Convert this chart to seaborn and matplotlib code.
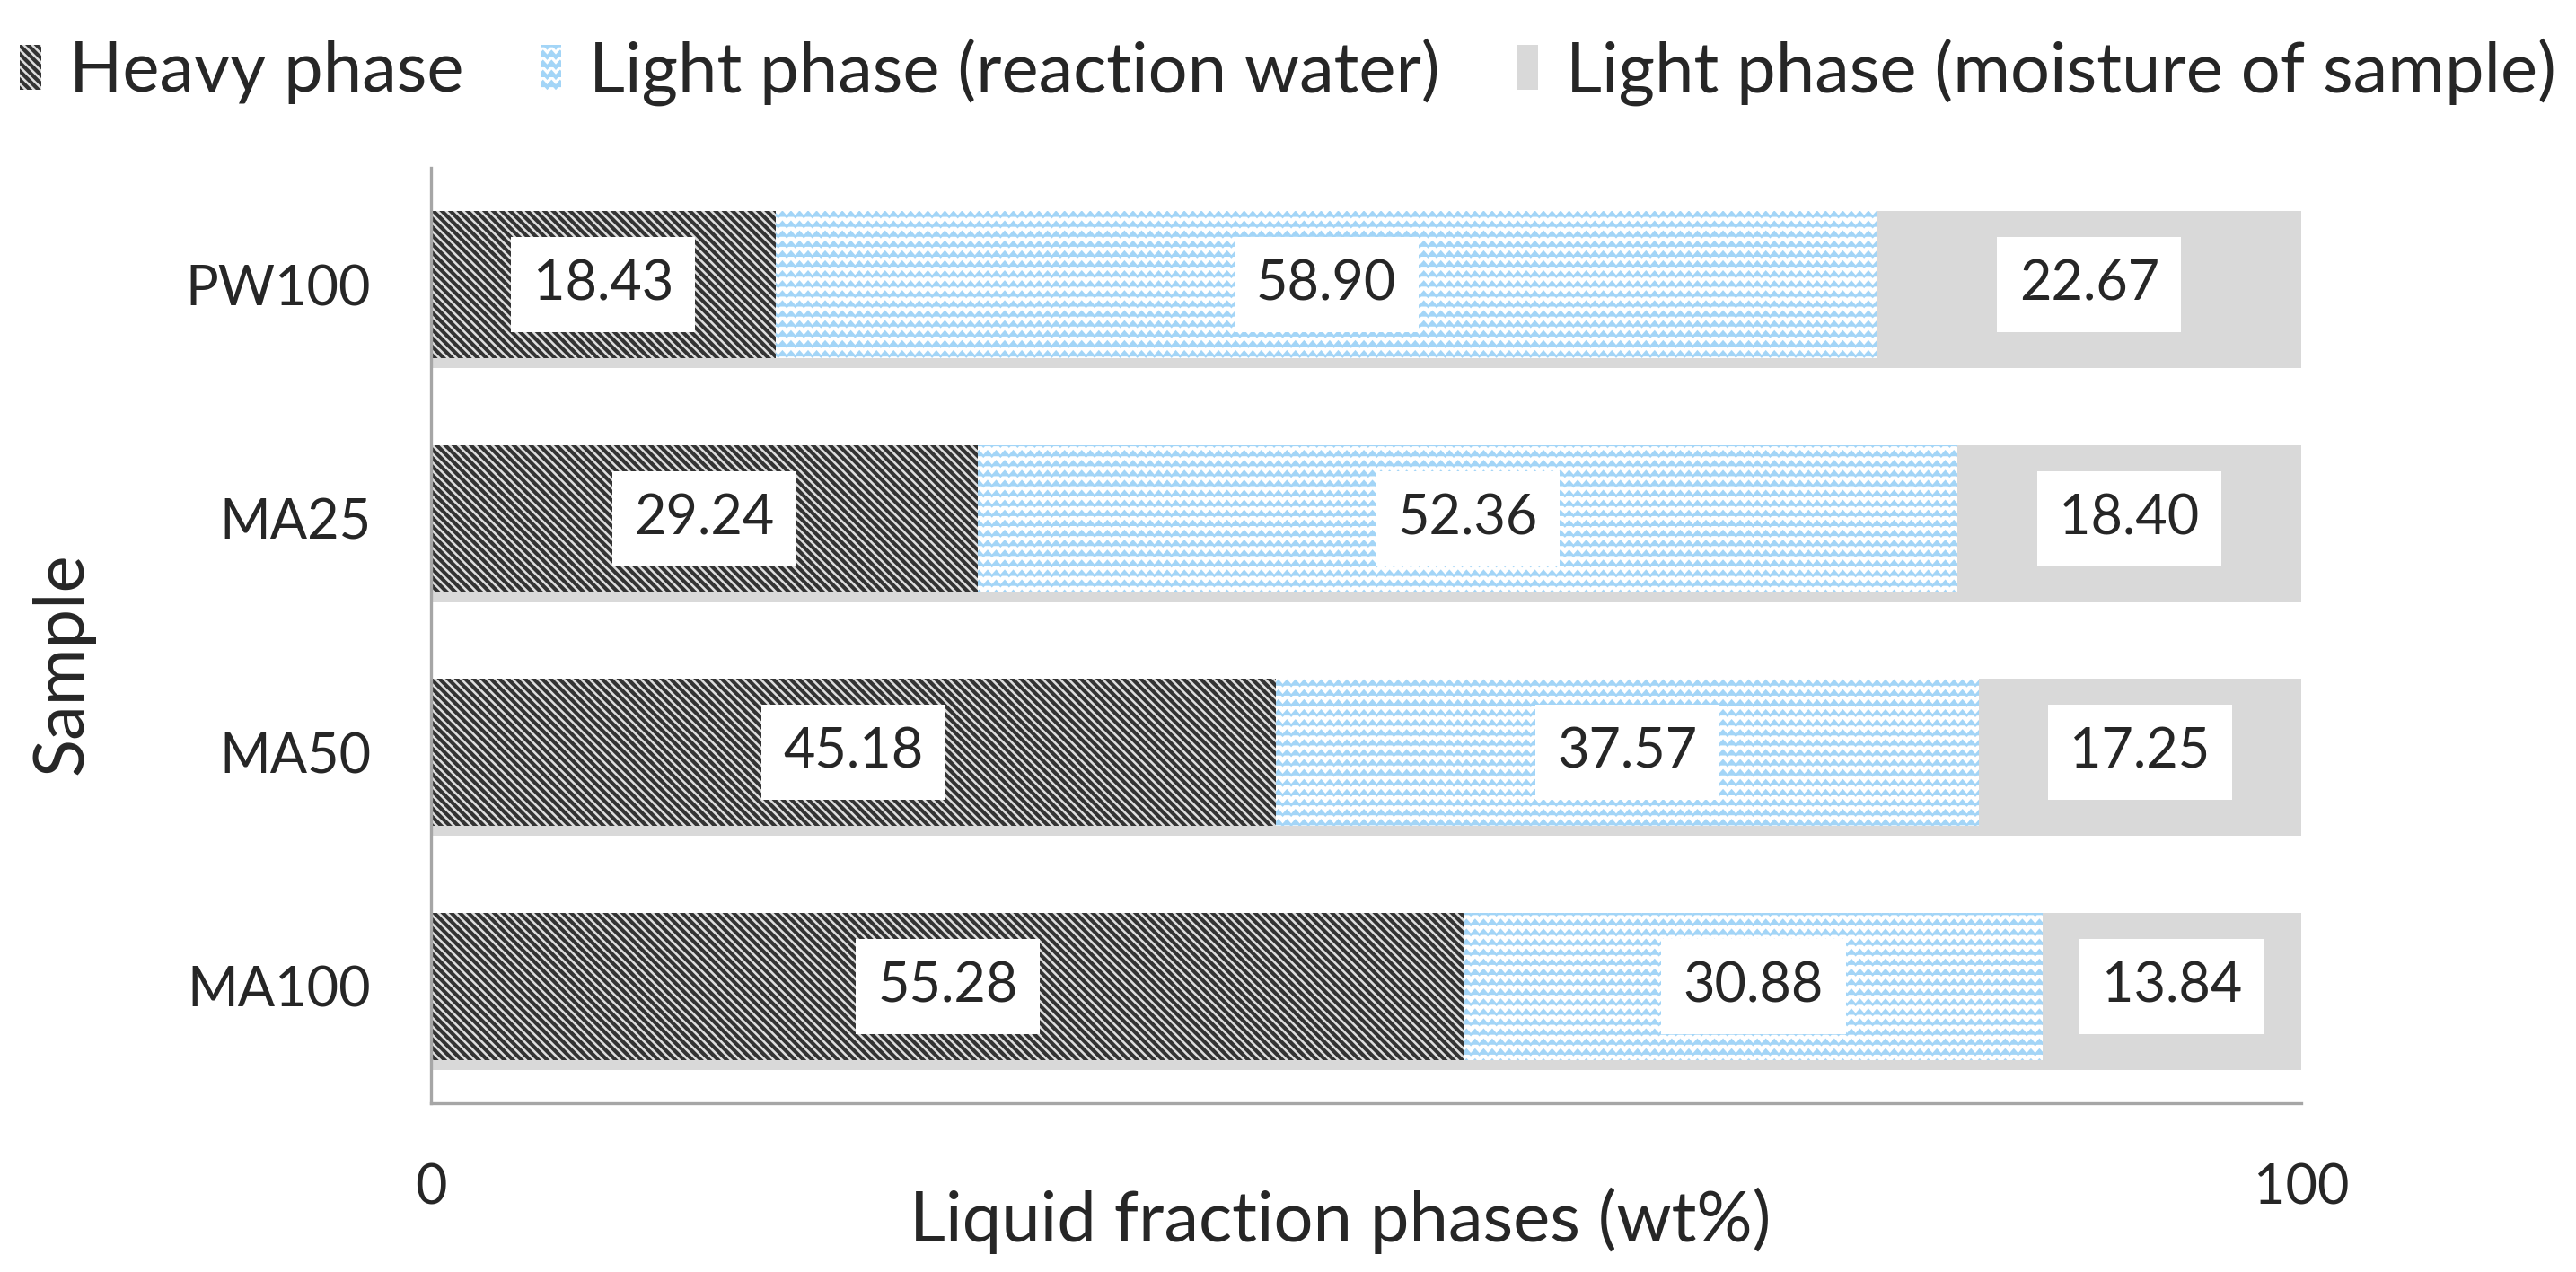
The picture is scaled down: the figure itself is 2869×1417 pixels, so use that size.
import matplotlib
matplotlib.use('Agg')
import matplotlib.pyplot as plt
import matplotlib.patches as mpatches
import matplotlib.patheffects as pe
from matplotlib import hatch as mhatch
import numpy as np
import pandas as pd
import seaborn as sns

# data
samples = ['PW100', 'MA25', 'MA50', 'MA100']
heavy = [18.43, 29.24, 45.18, 55.28]
water = [58.90, 52.36, 37.57, 30.88]
moisture = [22.67, 18.40, 17.25, 13.84]
phase_names = ['Heavy phase', 'Light phase (reaction water)', 'Light phase (moisture of sample)']
x_ticks = [0, 100]


# zigzag hatch ('z') for the reaction water bars
class ZigZagHatch(mhatch.HatchPatternBase):
    def __init__(self, hatch, density):
        self.num_rows = int(hatch.count('z') * density)
        self.num_teeth = int(round(self.num_rows * 1.15))
        self.num_vertices = self.num_rows * (2 * self.num_teeth + 1)

    def set_vertices_and_codes(self, vertices, codes):
        n = self.num_rows
        k = 2 * self.num_teeth + 1
        xs = np.linspace(0, 1, k)
        amp = 0.24 / n
        for i in range(n):
            y0 = (i + 0.5) / n
            ys = y0 + np.where(np.arange(k) % 2 == 0, -amp, amp)
            vertices[i * k:(i + 1) * k, 0] = xs
            vertices[i * k:(i + 1) * k, 1] = ys
            codes[i * k] = mpatches.Path.MOVETO
            codes[i * k + 1:(i + 1) * k] = mpatches.Path.LINETO


mhatch._hatch_types.append(ZigZagHatch)

sns.set_style('white')
plt.rcParams['font.family'] = ['Lato', 'DejaVu Sans']

df = pd.DataFrame({'Sample': samples, 'heavy': heavy, 'water': water, 'moisture': moisture})
df['cum_water'] = df['heavy'] + df['water']
df['cum_total'] = df['cum_water'] + df['moisture']

fig = plt.figure(figsize=(14.345, 7.085), dpi=200)
ax = fig.add_axes([0.1673, 0.1327, 0.726, 0.7353])

heavy_hatch = '\\' * 7
bar_w = 0.63
styles = [
    # (column, face, hatch colour, hatch, hatch lw)
    ('cum_total', '#d9d9d9', '#d9d9d9', '', 1.0),
    ('cum_water', '#ffffff', '#a3d5f7', 'zzz', 0.9),
    ('heavy', '#dedede', '#333333', heavy_hatch, 1.5),
]
for col, face, hcol, hatch, hlw in styles:
    plt.rcParams['hatch.linewidth'] = hlw
    sns.barplot(data=df, y='Sample', x=col, orient='y', color=face, saturation=1,
                width=bar_w, errorbar=None, ax=ax)
    for p in ax.containers[-1]:
        p.set_facecolor(face)
        p.set_edgecolor(hcol)
        p.set_linewidth(0)
        p.set_hatch(hatch)
        if hasattr(p, 'set_hatch_linewidth'):
            p.set_hatch_linewidth(hlw)
        if col == 'cum_total':
            p.set_path_effects([pe.SimplePatchShadow(offset=(0, -4), shadow_rgbFace='#000000', alpha=0.15),
                                pe.Normal()])

# value boxes
centers = [
    (df['heavy'] / 2, heavy),
    (df['heavy'] + df['water'] / 2, water),
    (df['cum_water'] + df['moisture'] / 2, moisture),
]
for xc, vals in centers:
    for i, (xv, v) in enumerate(zip(xc, vals)):
        ax.text(xv, i, f'{v:.2f}', ha='center', va='center', fontsize=22,
                bbox=dict(boxstyle='square,pad=0.4', fc='white', ec='none'))

ax.set_xlim(0, 100)
ax.set_ylim(3.5, -0.5)
ax.set_xticks(x_ticks)
ax.tick_params(axis='both', length=0, labelsize=22, pad=24)
for s in ['top', 'right']:
    ax.spines[s].set_visible(False)
for s in ['left', 'bottom']:
    ax.spines[s].set_color('#a6a6a6')
    ax.spines[s].set_linewidth(1.2)

ax.set_xlabel('Liquid fraction phases (wt%)', fontsize=28)
ax.xaxis.set_label_coords(0.486, -0.09)
ax.set_ylabel('Sample', fontsize=28)
ax.yaxis.set_label_coords(-0.18, 0.47)

handles = [
    mpatches.Patch(facecolor='#dedede', edgecolor='#333333', linewidth=0, hatch=heavy_hatch),
    mpatches.Patch(facecolor='#ffffff', edgecolor='#a3d5f7', linewidth=0, hatch='zzz'),
    mpatches.Patch(facecolor='#d9d9d9', edgecolor='#d9d9d9', linewidth=0),
]
fig.legend(handles, phase_names, loc='upper center', bbox_to_anchor=(0.5, 0.995), ncol=3,
           frameon=False, fontsize=28, handlelength=0.3, handleheight=0.6,
           handletextpad=0.4, columnspacing=1.1, borderaxespad=0.05)

fig.savefig('out.png', dpi=200)
